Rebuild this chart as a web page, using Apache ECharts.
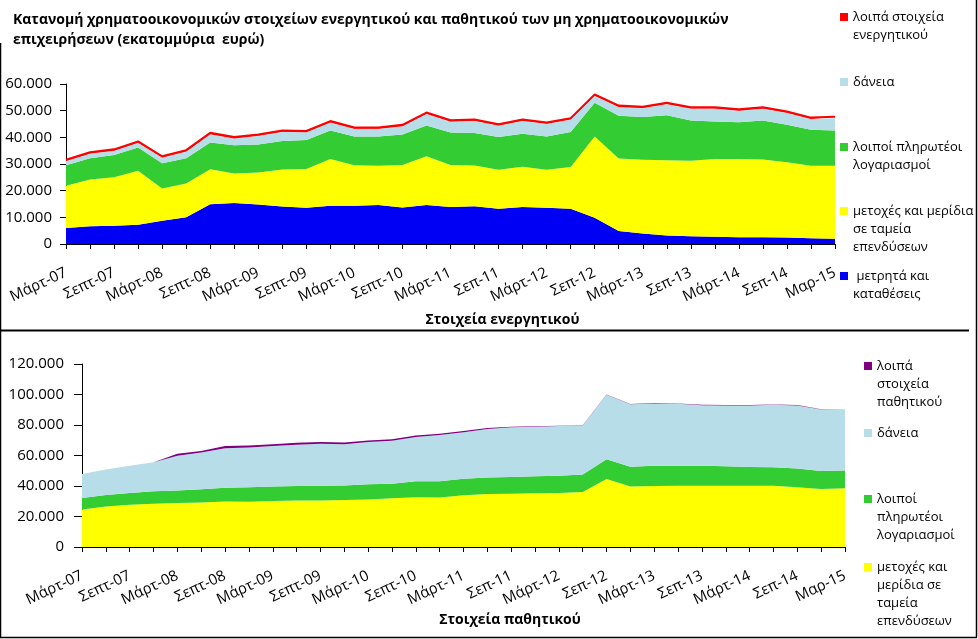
<!DOCTYPE html>
<html><head><meta charset="utf-8">
<script src="https://cdn.jsdelivr.net/npm/echarts@6/dist/echarts.min.js"></script>
<style>html,body{margin:0;padding:0;background:#fff}#c{width:978px;height:639px}</style>
</head><body><div id="c"></div>
<script>
const categories = ['Μάρτ-07','Ιούν-07','Σεπτ-07','Δεκ-07','Μάρτ-08','Ιούν-08','Σεπτ-08','Δεκ-08','Μάρτ-09','Ιούν-09','Σεπτ-09','Δεκ-09','Μάρτ-10','Ιούν-10','Σεπτ-10','Δεκ-10','Μάρτ-11','Ιούν-11','Σεπ-11','Δεκ-11','Μάρτ-12','Ιούν-12','Σεπ-12','Δεκ-12','Μάρτ-13','Ιούν-13','Σεπ-13','Δεκ-13','Μάρτ-14','Ιούν-14','Σεπ-14','Δεκ-14','Μαρ-15'];

// Assets (Στοιχεία ενεργητικού), million euro
const assetCash = [6000,6700,6800,7200,8700,10000,14900,15400,14800,14100,13600,14300,14300,14600,13700,14600,13900,14200,13200,13900,13600,13200,9800,4900,3900,3200,2900,2700,2500,2500,2400,2200,2000];
const assetShares = [15800,17500,18200,20300,12100,12700,13100,11000,12000,13800,14500,17600,15200,14700,15900,18300,15700,15200,14600,15100,14200,15700,30500,27200,27700,28200,28300,29200,29400,29200,28300,27100,27300];
const assetPayables = [7700,8000,8400,8700,9500,9500,10100,10600,10500,10700,10900,10700,10800,11000,11500,11500,12200,12200,12300,12300,12500,13100,12700,16000,16000,16900,15100,14000,13800,14600,14000,13500,13300];
const assetLoans = [1600,1700,1600,1800,2100,2500,3100,2600,3300,3500,2900,3000,2900,2900,3100,4400,4100,4600,4300,4900,4800,4700,2600,3300,3400,4200,4500,4900,4300,4500,4500,4100,4600];
const assetOther = [500,500,500,500,500,500,500,500,500,500,500,500,500,500,500,500,500,500,500,500,500,500,500,500,500,500,500,500,500,500,500,500,500];

// Liabilities (Στοιχεία παθητικού), million euro
const liabShares = [24600,26600,27700,28400,28800,29200,29900,29700,30100,30500,30500,30800,31200,31900,32700,32500,34000,34700,34900,35200,35400,36000,44600,39600,40000,40200,40200,40200,40200,40200,39100,38000,38500];
const liabPayables = [7500,7500,7700,8100,8300,8600,9000,9400,9500,9500,9700,9600,9900,9600,10400,10600,10700,10800,11000,11200,11400,11500,13000,13100,13200,13000,13000,12800,12300,12100,12300,11900,11600];
const liabLoans = [15800,16700,17800,19100,22700,24200,25900,26200,26600,27000,27500,26900,27700,28200,29000,30300,30500,31900,32600,32500,32500,32100,42200,40900,40900,40700,39800,39800,40300,40900,41400,40200,40200];
const liabOther = [0,0,0,0,1300,1000,1400,1300,1200,1400,1200,1200,1000,900,1000,800,900,600,400,300,250,250,250,250,250,250,250,250,250,250,250,250,250];

const topTicks = {min: 0, max: 60000, interval: 10000};
const bottomTicks = {min: 0, max: 120000, interval: 20000};

const FONT = 'Open Sans';
const fmt = v => String(v).replace(/\B(?=(\d{3})+(?!\d))/g, '.');

const chart = echarts.init(document.getElementById('c'), null, {renderer: 'canvas'});

function xAxis(gridIndex, name, nameShift, nameGap) {
  return {
    type: 'category', gridIndex, data: categories, boundaryGap: false,
    axisLine: {lineStyle: {color: '#000', width: 1}},
    axisTick: {show: true, interval: 0, length: 5, lineStyle: {color: '#000'}},
    axisLabel: {interval: 1, rotate: 25, margin: 28, fontFamily: FONT, fontSize: 15, color: '#000'},
    splitLine: {show: false},
    name, nameLocation: 'middle', nameGap,
    nameTextStyle: {fontFamily: FONT, fontSize: 14, fontWeight: 'bold', color: '#000', padding: [0, 0, 0, nameShift]}
  };
}
function yAxis(gridIndex, ticks, tickLen, margin) {
  return {
    type: 'value', gridIndex, min: ticks.min, max: ticks.max, interval: ticks.interval,
    axisLine: {show: true, lineStyle: {color: '#000', width: 1}},
    axisTick: {show: true, length: tickLen, lineStyle: {color: '#000'}},
    axisLabel: {margin, fontFamily: FONT, fontSize: 15, color: '#000', formatter: fmt},
    splitLine: {show: false}
  };
}
function area(name, data, color, axis, stack, lineColor, lineWidth) {
  return {
    name, type: 'line', data, xAxisIndex: axis, yAxisIndex: axis, stack,
    showSymbol: false, symbol: 'none', smooth: false,
    lineStyle: lineWidth ? {color: lineColor, width: lineWidth} : {width: 0, opacity: 0},
    itemStyle: {color},
    areaStyle: {color, opacity: 1},
    emphasis: {disabled: true}
  };
}
const L = 18;
const extraLines = [];
function legendItem(name, text, left, firstLineY) {
  const lines = text.split('\n');
  for (let k = 1; k < lines.length; k++) {
    extraLines.push({type: 'text', x: left + 13, y: firstLineY + k * L, silent: true,
      style: {text: lines[k], fontFamily: FONT, fontSize: 13, fill: '#000', verticalAlign: 'middle', align: 'left'}});
  }
  return {
    data: [name], left, top: firstLineY - L / 2, orient: 'vertical', padding: 0,
    icon: 'rect', itemWidth: 8, itemHeight: 8, itemGap: 0, selectedMode: false,
    formatter: () => lines[0],
    textStyle: {fontFamily: FONT, fontSize: 13, lineHeight: L, color: '#000'}
  };
}

const N_OA = 'λοιπά στοιχεία ενεργητικού';
const N_L = 'δάνεια';
const N_P = 'λοιποί πληρωτέοι λογαριασμοί';
const N_S = 'μετοχές και μερίδια σε ταμεία επενδύσεων';
const N_C = 'μετρητά και καταθέσεις';
const N_OL = 'λοιπά στοιχεία παθητικού';

const C_BLUE = '#0000F5', C_YEL = '#FFFF00', C_GRN = '#33CC33', C_LB = '#B7DDE8', C_RED = '#FF0000', C_PUR = '#7F007F';

const legends = [
  legendItem(N_OA, 'λοιπά στοιχεία\nενεργητικού', 840, 17),
  legendItem(N_L, 'δάνεια', 840, 82),
  legendItem(N_P, 'λοιποί πληρωτέοι\nλογαριασμοί', 840, 147),
  legendItem(N_S, 'μετοχές και μερίδια\nσε ταμεία\nεπενδύσεων', 840, 211),
  legendItem(N_C, ' μετρητά και\nκαταθέσεις', 840, 276),
  legendItem(N_OL, 'λοιπά\nστοιχεία\nπαθητικού', 864, 366),
  legendItem(N_L, 'δάνεια', 864, 433),
  legendItem(N_P, 'λοιποί\nπληρωτέοι\nλογαριασμοί', 864, 499),
  legendItem(N_S, 'μετοχές και\nμερίδια σε\nταμεία\nεπενδύσεων', 864, 567)
];

chart.setOption({
  animation: false,
  backgroundColor: '#fff',
  title: {
    text: 'Κατανομή χρηματοοικονομικών στοιχείων ενεργητικού και παθητικού των μη χρηματοοικονομικών\nεπιχειρήσεων (εκατομμύρια  ευρώ)',
    left: 8, top: 5,
    textStyle: {fontFamily: FONT, fontSize: 14, fontWeight: 'bold', color: '#000', lineHeight: 20}
  },
  grid: [
    {left: 66, right: 143, top: 84, bottom: 395},
    {left: 82, right: 133, top: 364, bottom: 92}
  ],
  xAxis: [xAxis(0, 'Στοιχεία ενεργητικού', 104, 69), xAxis(1, 'Στοιχεία παθητικού', 93, 66)],
  yAxis: [yAxis(0, topTicks, 6, 14), yAxis(1, bottomTicks, 8, 18)],
  legend: legends,
  series: [
    area(N_C, assetCash, C_BLUE, 0, 'a'),
    area(N_S, assetShares, C_YEL, 0, 'a'),
    area(N_P, assetPayables, C_GRN, 0, 'a'),
    area(N_L, assetLoans, C_LB, 0, 'a'),
    area(N_OA, assetOther, C_RED, 0, 'a', C_RED, 2),
    area(N_S, liabShares, C_YEL, 1, 'b'),
    area(N_P, liabPayables, C_GRN, 1, 'b'),
    area(N_L, liabLoans, C_LB, 1, 'b'),
    area(N_OL, liabOther, C_PUR, 1, 'b')
  ],
  graphic: extraLines.concat([
    {type: 'line', shape: {x1: 0, y1: 330.5, x2: 969, y2: 330.5}, style: {stroke: '#000', lineWidth: 2}},
    {type: 'line', shape: {x1: 0.5, y1: 43, x2: 0.5, y2: 637}, style: {stroke: '#000', lineWidth: 1.5}},
    {type: 'line', shape: {x1: 976.5, y1: 0, x2: 976.5, y2: 637}, style: {stroke: '#000', lineWidth: 1.5}},
    {type: 'line', shape: {x1: 0, y1: 637.5, x2: 977, y2: 637.5}, style: {stroke: '#000', lineWidth: 1.5}}
  ])
});
</script></body></html>
